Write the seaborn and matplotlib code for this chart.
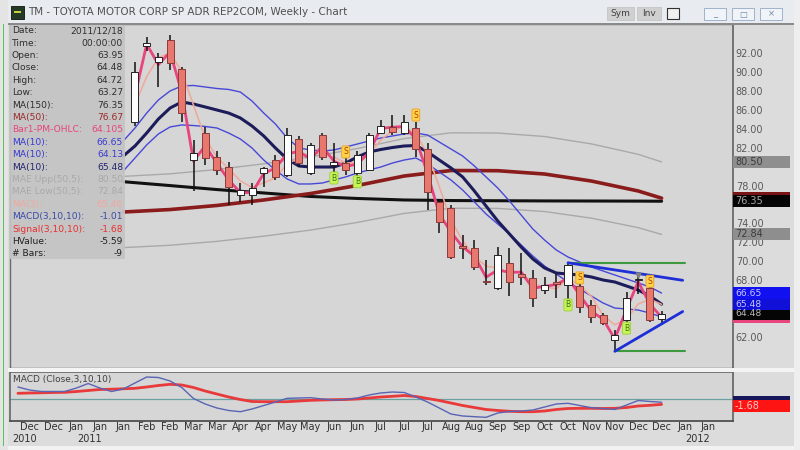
import pandas as pd
import matplotlib.pyplot as plt
import matplotlib.patches as mpatches
import seaborn as sns

# ---- values (x = week index, 0 = first Dec 2010 week) ----
candle_weeks = list(range(9, 55))
opens = [84.7, 92.7, 91.1, 93.4, 90.3, 80.7, 83.5, 81.05, 80.0, 77.0, 77.0, 79.3, 80.7, 79.1,
         82.9, 79.3, 83.3, 80.2, 80.4, 79.3, 79.65, 83.55, 84.2, 83.5, 84.05, 81.9, 76.3, 75.6,
         71.6, 71.4, 67.9, 67.15, 69.8, 68.7, 68.2, 67.0, 67.8, 67.5, 67.35, 65.4, 64.3, 61.7,
         63.8, 68.0, 67.15, 63.95]
highs = [91.0, 93.7, 92.0, 93.9, 90.55, 82.8, 84.2, 81.6, 80.5, 78.3, 78.3, 80.0, 81.2, 84.1,
         83.2, 82.5, 83.5, 82.5, 80.9, 81.6, 83.5, 84.9, 85.45, 85.45, 84.75, 82.45, 76.5, 75.95,
         72.8, 72.25, 70.1, 71.55, 71.4, 70.85, 69.1, 68.35, 68.7, 69.95, 68.7, 65.9, 64.5, 62.75,
         66.8, 68.7, 67.35, 64.72]
lows = [84.3, 92.2, 88.4, 90.2, 84.75, 77.4, 80.2, 79.1, 76.0, 76.3, 76.0, 77.9, 78.6, 78.9,
        80.0, 79.1, 80.7, 79.1, 79.1, 79.0, 79.5, 83.4, 83.3, 83.3, 81.05, 75.4, 73.0, 70.3,
        70.3, 69.1, 67.5, 67.0, 66.3, 67.5, 65.2, 66.6, 66.1, 65.9, 64.5, 63.5, 63.3, 60.6,
        63.1, 66.6, 63.6, 63.27]
closes = [90.0, 93.1, 91.6, 90.9, 85.7, 81.4, 80.9, 79.65, 77.9, 77.5, 77.7, 79.9, 78.9, 83.3,
          80.35, 82.3, 81.05, 80.5, 79.65, 81.2, 83.3, 84.3, 83.7, 84.75, 81.9, 77.35, 74.2, 70.5,
          71.4, 69.45, 67.8, 70.7, 67.85, 68.4, 66.1, 67.5, 67.6, 69.6, 65.2, 64.15, 63.45, 62.2,
          66.1, 68.1, 63.8, 64.48]

ma_weeks = list(range(8, 55))
ma10_high = [82.71, 84.08, 85.66, 87.04, 87.99, 88.52, 88.57, 88.41, 88.25, 88.15, 87.88, 86.93,
             85.66, 84.50, 83.02, 81.97, 81.76, 81.65, 81.76, 82.07, 82.39, 82.71, 83.02, 83.24,
             83.45, 83.55, 83.34, 82.60, 81.86, 81.12, 80.07, 78.91, 77.74, 76.37, 74.89, 73.41,
             72.25, 71.20, 70.46, 69.93, 69.40, 68.98, 68.56, 68.14, 67.72, 67.29, 66.65]
ma10_low = [79.54, 80.91, 82.29, 83.45, 84.19, 84.40, 84.34, 84.24, 84.08, 83.55, 82.92, 81.97,
            80.70, 79.65, 78.70, 78.17, 78.17, 78.27, 78.59, 78.91, 79.33, 79.65, 79.96, 80.38,
            80.70, 80.91, 80.28, 79.43, 78.59, 77.53, 76.27, 75.00, 73.94, 72.89, 71.73, 70.56,
            69.51, 68.66, 67.82, 67.08, 66.34, 65.60, 65.07, 64.97, 64.86, 64.54, 64.13]
ma10_close = [81.12, 82.18, 83.55, 85.03, 86.19, 86.83, 86.61, 86.30, 85.98, 85.66, 85.14, 84.29,
              83.24, 81.97, 80.81, 80.07, 79.96, 79.96, 79.96, 80.38, 81.02, 81.55, 81.81, 82.02,
              82.18, 82.23, 81.55, 80.70, 79.86, 78.91, 77.43, 75.84, 74.26, 72.89, 71.51, 70.25,
              69.30, 68.77, 68.66, 68.56, 68.35, 68.03, 67.82, 67.40, 66.97, 66.34, 65.48]

ma3_weeks = list(range(9, 55))
ma3 = [86.5, 89.5, 91.5, 92.0, 90.0, 86.5, 83.0, 81.0, 79.8, 78.5, 77.8, 78.3, 78.8, 80.3, 80.9,
       81.5, 81.3, 81.0, 80.4, 80.4, 81.3, 82.8, 83.8, 84.2, 83.5, 81.3, 77.9, 74.3, 72.2, 70.5,
       69.5, 69.3, 68.8, 68.9, 67.6, 67.3, 67.1, 68.2, 67.5, 66.3, 64.3, 63.3, 63.9, 65.5, 66.0,
       65.46]

slow_weeks = [8, 12, 16, 20, 24, 28, 32, 36, 40, 44, 48, 52, 54]
ma150 = [78.41, 78.0, 77.58, 77.22, 76.85, 76.64, 76.48, 76.42, 76.40, 76.38, 76.37, 76.36, 76.35]
ma50 = [75.21, 75.47, 75.90, 76.48, 77.16, 78.01, 79.01, 79.59, 79.57, 79.22, 78.48, 77.43, 76.67]
mae_upper = [78.97, 79.24, 79.70, 80.30, 81.02, 81.91, 82.96, 83.57, 83.55, 83.18, 82.40, 81.30, 80.50]
mae_lower = [71.45, 71.70, 72.11, 72.66, 73.30, 74.11, 75.06, 75.61, 75.59, 75.26, 74.56, 73.56, 72.84]

sell_weeks = [27, 33, 47, 53]
sell_prices = [81.55, 85.45, 68.25, 67.9]
buy_weeks = [26, 28, 46, 51]
buy_prices = [78.8, 78.4, 65.4, 62.95]

green_top_weeks, green_top = [46, 56], [69.85, 69.85]
green_bottom_weeks, green_bottom = [50, 56], [60.5, 60.5]
blue_top_weeks, blue_top = [46, 55.8], [69.85, 68.0]
blue_bottom_weeks, blue_bottom = [50, 55.8], [60.5, 64.7]

macd_weeks = list(range(-1, 55))
macd_line = [3.75, 2.8, 2.35, 2.35, 2.35, 3.44, 4.84, 3.44, 2.34, 3.13, 5.0, 6.88, 6.72, 5.63,
             3.59, 0.16, -1.56, -2.81, -3.59, -3.97, -3.13, -2.03, -0.94, 0.22, 0.31, 0.41, 0.0,
             -0.31, -0.16, 0.31, 1.25, 1.88, 2.19, 2.03, 0.63, -0.94, -2.81, -4.69, -5.31, -5.53,
             -5.72, -4.38, -3.91, -3.75, -3.44, -2.5, -1.56, -1.34, -2.03, -2.72, -2.97, -3.28,
             -1.88, -0.47, -0.78, -1.01]
macd_signal = [1.78, 1.88, 1.94, 2.03, 2.09, 2.34, 2.66, 2.97, 3.06, 3.19, 3.34, 3.75, 4.22, 4.59,
               4.38, 3.59, 2.5, 1.56, 0.63, -0.16, -0.78, -0.84, -0.84, -0.84, -0.63, -0.41, -0.31,
               -0.22, -0.16, 0.0, 0.31, 0.63, 0.84, 1.09, 0.78, 0.16, -0.47, -1.25, -2.03, -2.66,
               -3.28, -3.59, -3.84, -3.97, -3.97, -3.75, -3.28, -2.97, -2.91, -2.91, -2.97, -2.91,
               -2.66, -2.19, -1.97, -1.68]

tick_weeks = list(range(0, 60, 2))
tick_months = ['Dec', 'Dec', 'Jan', 'Jan', 'Jan', 'Feb', 'Feb', 'Mar', 'Mar', 'Apr', 'Apr', 'May',
               'May', 'Jun', 'Jun', 'Jul', 'Jul', 'Jul', 'Aug', 'Aug', 'Sep', 'Sep', 'Oct', 'Oct',
               'Nov', 'Nov', 'Dec', 'Dec', 'Jan', 'Jan']
year_labels = ['2010', '2011', '2012']
year_weeks = [-0.4, 5.1, 57.1]
# price ticks that are not hidden behind the value tags on the right
price_ticks = [62, 68, 70, 72, 74, 78, 82, 84, 86, 88, 90, 92]

sns.set_theme(style='white')
plt.rcParams['font.family'] = ['DejaVu Sans']

W, H = 800, 450
BG = '#d6d6d6'
fig = plt.figure(figsize=(8, 4.5), dpi=100, facecolor='#dcdcdc')


def px(x, y):
    return x / W, 1 - y / H


def frect(x0, y0, x1, y1, **kw):
    r = mpatches.Rectangle(px(x0, y1), (x1 - x0) / W, (y1 - y0) / H,
                           transform=fig.transFigure, **kw)
    fig.add_artist(r)
    return r


ax = fig.add_axes([10 / W, 1 - 368 / H, 723 / W, 344 / H], facecolor=BG)
ax2 = fig.add_axes([10 / W, 1 - 421 / H, 723 / W, 49 / H], facecolor=BG)
xlim = (-1.68, 60.1)

# ---- price panel ----
df = pd.DataFrame({'week': candle_weeks, 'open': opens, 'high': highs,
                   'low': lows, 'close': closes})
df['ohlc'] = df[['open', 'high', 'low', 'close']].mean(axis=1)

sns.lineplot(x=slow_weeks, y=mae_upper, ax=ax, color='#a9a9a9', linewidth=1.0, zorder=1)
sns.lineplot(x=slow_weeks, y=mae_lower, ax=ax, color='#a9a9a9', linewidth=1.0, zorder=1)
sns.lineplot(x=slow_weeks, y=ma150, ax=ax, color='#111111', linewidth=2.2, zorder=1.2)
sns.lineplot(x=slow_weeks, y=ma50, ax=ax, color='#8a1c1c', linewidth=2.6, zorder=1.3)
sns.lineplot(x=ma_weeks, y=ma10_high, ax=ax, color='#4848d8', linewidth=1.0, zorder=1.5)
sns.lineplot(x=ma_weeks, y=ma10_low, ax=ax, color='#4848d8', linewidth=1.0, zorder=1.5)
sns.lineplot(x=ma_weeks, y=ma10_close, ax=ax, color='#1c1c5a', linewidth=2.2, zorder=1.6)
sns.lineplot(x=ma3_weeks, y=ma3, ax=ax, color='#f0a898', linewidth=1.1, zorder=1.7)
sns.lineplot(data=df, x='week', y='ohlc', ax=ax, color='#e8457e', linewidth=2.0, zorder=2)

up = df['close'] >= df['open']
body_bottom = df[['open', 'close']].min(axis=1)
body_height = (df['close'] - df['open']).abs().clip(lower=0.15)
ax.vlines(df['week'], df['low'], df['high'], color='#111111', linewidth=1.1, zorder=3)
ax.bar(df['week'], body_height, bottom=body_bottom, width=0.6,
       color=['white' if u else '#e8786e' for u in up],
       edgecolor=['#222222' if u else '#8a3a3a' for u in up], linewidth=0.7, zorder=4)

for xs, ys, c, lw in [(green_top_weeks, green_top, '#3f9a3f', 1.5),
                      (green_bottom_weeks, green_bottom, '#3f9a3f', 1.5),
                      (blue_top_weeks, blue_top, '#1f2fd8', 2.0),
                      (blue_bottom_weeks, blue_bottom, '#1f2fd8', 2.0)]:
    sns.lineplot(x=xs, y=ys, ax=ax, color=c, linewidth=lw, zorder=5)

for w, p in zip(sell_weeks, sell_prices):
    ax.text(w, p, 'S', fontsize=5.5, color='#b04000', ha='center', va='center', zorder=6,
            bbox=dict(boxstyle='round,pad=0.2', fc='#ffd24a', ec='#f0a020', lw=0.6))
for w, p in zip(buy_weeks, buy_prices):
    ax.text(w, p, 'B', fontsize=5.5, color='#3a7a10', ha='center', va='center', zorder=6,
            bbox=dict(boxstyle='round,pad=0.2', fc='#c8f25a', ec='#9ad030', lw=0.6))
ax.plot([52], [68.55], marker='v', ms=3.5, color='#808080', zorder=6)

ax.set_xlim(xlim)
ax.set_ylim(58.74, 95.06)
ax.set_xticks([])
ax.yaxis.tick_right()
ax.set_yticks(price_ticks)
ax.set_yticklabels([f'{v:.2f}' for v in price_ticks])
ax.tick_params(axis='y', length=0, pad=2, labelsize=7, labelcolor='#5a5a5a')
ax.set_xlabel('')
ax.set_ylabel('')
for s in ax.spines.values():
    s.set_color('#6a6a6a')
    s.set_linewidth(1.0)
ax.spines['right'].set_linewidth(1.3)


def tag(axis, value, text, fc, tc, h, size=7):
    axis.add_patch(mpatches.Rectangle((1.0, value - h / 2), 57 / 723, h,
                                      transform=axis.get_yaxis_transform(),
                                      fc=fc, ec='none', clip_on=False, zorder=8))
    if text:
        axis.text(1.0 + 2 / 723, value, text, transform=axis.get_yaxis_transform(),
                  fontsize=size, color=tc, va='center', ha='left', clip_on=False, zorder=9)


th = 12 / 9.47
tag(ax, mae_upper[-1], f'{mae_upper[-1]:.2f}', '#8e8e8e', '#3c3c3c', th)
tag(ax, ma50[-1], '', '#7a1414', '#7a1414', th)
tag(ax, ma150[-1], f'{ma150[-1]:.2f}', '#050505', '#a8a8a8', th)
tag(ax, mae_lower[-1], f'{mae_lower[-1]:.2f}', '#8e8e8e', '#3c3c3c', th)
tag(ax, df['ohlc'].iloc[-1], '', '#e8457e', '#e8457e', th)
tag(ax, closes[-1], f'{closes[-1]:.2f}', '#050505', '#b8b8b8', th, 6.6)
tag(ax, ma10_close[-1], f'{ma10_close[-1]:.2f}', '#1010d8', '#c8c8ff', th, 6.6)
tag(ax, ma10_high[-1], f'{ma10_high[-1]:.2f}', '#1010f0', '#c8c8ff', th, 6.6)

# ---- MACD panel ----
sns.lineplot(x=macd_weeks, y=macd_line, ax=ax2, color='#5a64b4', linewidth=1.0, zorder=3)
sns.lineplot(x=macd_weeks, y=macd_signal, ax=ax2, color='#e83a3a', linewidth=2.0, zorder=2)
ax2.axhline(0, color='#6aa2a2', linewidth=0.9, zorder=1)
ax2.set_xlim(xlim)
ax2.set_ylim(-6.875, 8.44)
ax2.set_yticks([])
ax2.set_xticks(tick_weeks)
ax2.set_xticklabels(tick_months)
ax2.tick_params(axis='x', length=0, pad=0.5, labelsize=7, labelcolor='#303030')
ax2.set_xlabel('')
ax2.set_ylabel('')
for s in ax2.spines.values():
    s.set_color('#6a6a6a')
ax2.spines['bottom'].set_color('#4a4a4a')
ax2.spines['right'].set_linewidth(1.3)
for w, t in zip(year_weeks, year_labels):
    ax2.text(w, -0.36, t, transform=ax2.get_xaxis_transform(), fontsize=7,
             color='#303030', ha='center', va='center')
ax2.text(0.004, 0.85, 'MACD (Close,3,10,10)', transform=ax2.transAxes, fontsize=6.5,
         color='#404040', va='center', ha='left')
tag(ax2, macd_line[-1], '', '#16165a', '#8080c0', 3.75)
tag(ax2, macd_signal[-1] - 0.5, f'{macd_signal[-1]:.2f}', '#ff1414', '#ffc8c8', 3.75)

# ---- window chrome ----
frect(0, 0, 800, 23, fc='#e8ecf1', ec='none', zorder=1)
frect(0, 23, 800, 24.5, fc='#8a8a8a', ec='none', zorder=1)
frect(0, 368, 800, 371.5, fc='#f4f4f4', ec='none', zorder=1)
frect(0, 446, 800, 450, fc='#f2f2f2', ec='none', zorder=1)
frect(0, 0, 8, 450, fc='#e4e4e4', ec='none', zorder=1)
frect(2.5, 24, 4, 446, fc='#5cc05c', ec='none', zorder=2)
frect(794, 0, 800, 450, fc='#eeeeee', ec='none', zorder=1)
frect(11, 6, 24, 19, fc='#243a24', ec='#101010', lw=0.6, zorder=2)
frect(14, 11, 21, 13, fc='#c8d040', ec='none', zorder=3)
fig.text(*px(28, 12), 'TM - TOYOTA MOTOR CORP SP ADR REP2COM, Weekly - Chart',
         fontsize=7.5, color='#505050', va='center', ha='left')
for x0, x1, t in [(607, 634, 'Sym'), (637, 661, 'Inv')]:
    frect(x0, 7, x1, 20, fc='#d0d0d0', ec='#c0c0c0', lw=0.5, zorder=2)
    fig.text(*px((x0 + x1) / 2, 13.5), t, fontsize=6.5, color='#404040',
             ha='center', va='center')
frect(667, 8, 679, 19, fc='#f0f0f0', ec='#303030', lw=0.8, zorder=2)
for x0, g in [(704, '_'), (732, '□'), (760, '×')]:
    frect(x0, 8, x0 + 22, 20, fc='#f0f3f7', ec='#9fb3cc', lw=0.7, zorder=2)
    fig.text(*px(x0 + 11, 14), g, fontsize=6, color='#7088a8', ha='center', va='center')

# ---- data window overlay ----
frect(10, 25, 125, 259, fc='#c4c4c4', ec='none', alpha=0.93, zorder=20)
info_labels = ['Date:', 'Time:', 'Open:', 'Close:', 'High:', 'Low:', 'MA(150):', 'MA(50):',
               'Bar1-PM-OHLC:', 'MA(10):', 'MA(10):', 'MA(10):', 'MAE Upp(50,5):',
               'MAE Low(50,5):', 'MA(3):', 'MACD(3,10,10):', 'Signal(3,10,10):', 'HValue:',
               '# Bars:']
info_values = ['2011/12/18', '00:00:00', f'{opens[-1]:.2f}', f'{closes[-1]:.2f}',
               f'{highs[-1]:.2f}', f'{lows[-1]:.2f}', f'{ma150[-1]:.2f}', f'{ma50[-1]:.2f}',
               f'{df["ohlc"].iloc[-1]:.3f}', f'{ma10_high[-1]:.2f}', f'{ma10_low[-1]:.2f}',
               f'{ma10_close[-1]:.2f}', f'{mae_upper[-1]:.2f}', f'{mae_lower[-1]:.2f}',
               f'{ma3[-1]:.2f}', f'{macd_line[-1]:.2f}', f'{macd_signal[-1]:.2f}', '-5.59', '-9']
info_colors = ['#2e2e2e'] * 7 + ['#9a2a2a', '#e8457e', '#3a3ad0', '#3a3ad0', '#24246e',
                                 '#a9a9a9', '#a9a9a9', '#f0a8a0', '#3a4aa8', '#e83030',
                                 '#202020', '#202020']
for i, (lab, val, col) in enumerate(zip(info_labels, info_values, info_colors)):
    y = 30.7 + 12.4 * i
    fig.text(*px(12, y), lab, fontsize=6.6, color=col, va='center', ha='left', zorder=21)
    fig.text(*px(123, y), val, fontsize=6.6, color=col, va='center', ha='right', zorder=21)

fig.savefig('out.png', dpi=100, facecolor=fig.get_facecolor())
